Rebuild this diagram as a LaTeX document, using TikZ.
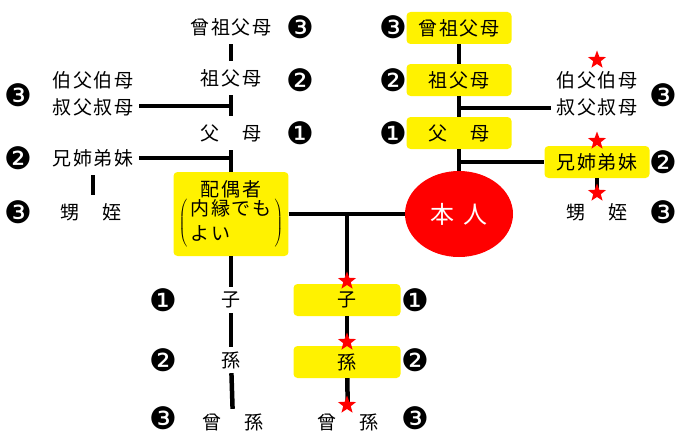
\documentclass[tikz,border=0pt]{standalone}
\usepackage{fontspec}
\newfontfamily\jpfont[LetterSpace=10]{Noto Sans CJK JP}
\newfontfamily\numfont{DejaVu Sans}
\usetikzlibrary{shapes.geometric}

\begin{document}
\begin{tikzpicture}[x=1pt,y=-1pt,
  kin/.style={font=\jpfont\fontsize{19}{27}\selectfont,align=center,inner ysep=0pt,inner xsep=5pt,minimum height=34pt},
  ybox/.style={kin,fill=yellow,rounded corners=4pt,minimum width=105pt,minimum height=32pt},
  deg/.style={font=\numfont\fontsize{31}{31}\selectfont,inner sep=0pt},
  link/.style={line width=4.5pt},
  hoshi/.style={star,star points=5,star point ratio=2.4,fill=red,minimum size=19pt,inner sep=0pt}]
  \useasboundingbox (0,0) rectangle (679,436);
  % spouse side
  \node[kin] (sgg) at (231,27) {曾祖父母};
  \node[kin] (sgp) at (231,78) {祖父母};
  \node[kin] (spar) at (231,133) {父　母};
  \node[kin] (sunc) at (93,94) {伯父伯母\\叔父叔母};
  \node[kin] (ssib) at (93,158) {兄姉弟妹};
  \node[kin] (sneph) at (91,212) {甥　姪};
  \node[ybox,minimum width=106pt,minimum height=84pt] (spouse) at (231,214)
    {配偶者\\[0pt]\renewcommand{\arraystretch}{0.8}%
     $\left(\mkern3mu\mbox{\begin{tabular}{@{}l@{}}内縁でも\\[4pt]よい\end{tabular}}\mkern3mu\right)$};
  \node[kin,minimum height=26pt] (schild) at (231,300) {子};
  \node[kin,minimum height=26pt] (sgc) at (231,360) {孫};
  \node[kin,minimum height=26pt] (sggc) at (233,422) {曾　孫};
  % own side
  \node[ybox] (rgg) at (459,28) {曾祖父母};
  \node[ybox] (rgp) at (459,80) {祖父母};
  \node[ybox] (rpar) at (459,133) {父　母};
  \node[ellipse,fill=red,minimum width=108pt,minimum height=86pt,inner sep=0pt,
    text=white,font=\jpfont\fontsize{24}{24}\selectfont] (honin) at (459,214) {本\hspace{10pt}人};
  \node[kin] (runc) at (597,94) {伯父伯母\\叔父叔母};
  \node[ybox] (rsib) at (597,162) {兄姉弟妹};
  \node[kin] (rneph) at (597,212) {甥　姪};
  \node[ybox,minimum width=107pt] (rchild) at (347,300) {子};
  \node[ybox,minimum width=107pt] (rgc) at (347,362) {孫};
  \node[kin,minimum height=26pt] (rggc) at (348,422) {曾　孫};
  % degrees
  \node[deg] (d1) at (300,27) {❸};
  \node[deg] (d2) at (300,80) {❷};
  \node[deg] (d3) at (300,133) {❶};
  \node[deg] (d4) at (18,95) {❸};
  \node[deg] (d5) at (18,158) {❷};
  \node[deg] (d6) at (18,212) {❸};
  \node[deg] (d7) at (163,300) {❶};
  \node[deg] (d8) at (163,360) {❷};
  \node[deg] (d9) at (163,418) {❸};
  \node[deg] (d10) at (393,27) {❸};
  \node[deg] (d11) at (393,80) {❷};
  \node[deg] (d12) at (393,133) {❶};
  \node[deg] (d13) at (663,95) {❸};
  \node[deg] (d14) at (663,162) {❷};
  \node[deg] (d15) at (663,212) {❸};
  \node[deg] (d16) at (415,300) {❶};
  \node[deg] (d17) at (415,360) {❷};
  \node[deg] (d18) at (415,418) {❸};
  % junctions
  \coordinate (sj1) at (231,106);
  \coordinate (sj2) at (231,158);
  \coordinate (rj1) at (459,108);
  \coordinate (rj2) at (459,162);
  \coordinate (cj) at (347,214);
  % lines
  \draw[link] (sgg) -- (sgp);
  \draw[link] (sgp) -- (spar);
  \draw[link] (spar) -- (spouse);
  \draw[link] (sunc.east |- sj1) -- (sj1);
  \draw[link] (ssib) -- (sj2);
  \draw[link] (ssib.south) -- (ssib.south |- sneph.north);
  \draw[link] (spouse) -- (schild);
  \draw[link] (schild) -- (sgc);
  \draw[link] (sgc) -- (sggc);
  \draw[link] (spouse) -- (honin);
  \draw[link] (cj) -- (rchild);
  \draw[link] (rchild) -- (rgc);
  \draw[link] (rgc) -- (rggc);
  \draw[link] (rgg) -- (rgp);
  \draw[link] (rgp) -- (rpar);
  \draw[link] (rpar) -- (honin);
  \draw[link] (rj1) -- (runc.west |- rj1);
  \draw[link] (rj2) -- (rsib);
  \draw[link] (rsib) -- (rneph);
  % stars
  \node[hoshi] (k1) at (597,60) {};
  \node[hoshi] (k2) at (597,141) {};
  \node[hoshi] (k3) at (597,193) {};
  \node[hoshi] (k4) at (347,281) {};
  \node[hoshi] (k5) at (347,342) {};
  \node[hoshi] (k6) at (347,405) {};
\end{tikzpicture}
\end{document}
